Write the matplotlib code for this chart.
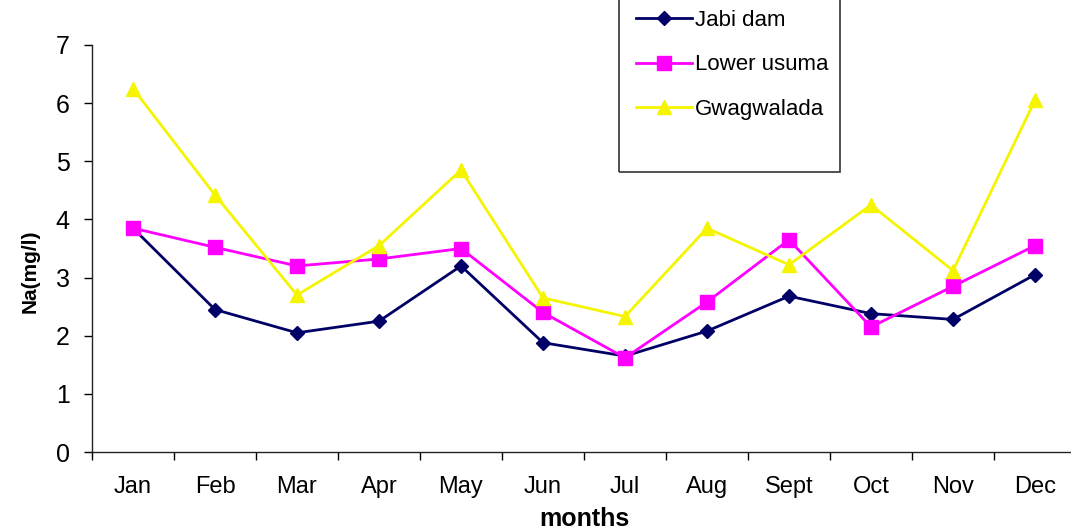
import matplotlib
matplotlib.use("Agg")
import matplotlib.pyplot as plt
from matplotlib.patches import Rectangle
import numpy as np

months = ["Jan", "Feb", "Mar", "Apr", "May", "Jun", "Jul", "Aug", "Sept", "Oct", "Nov", "Dec"]
jabi_dam = [3.85, 2.45, 2.05, 2.25, 3.2, 1.88, 1.65, 2.08, 2.68, 2.38, 2.28, 3.05]
lower_usuma = [3.85, 3.52, 3.2, 3.32, 3.5, 2.4, 1.62, 2.58, 3.65, 2.15, 2.85, 3.55]
gwagwalada = [6.25, 4.42, 2.7, 3.55, 4.85, 2.65, 2.33, 3.85, 3.22, 4.25, 3.12, 6.05]
y_ticks = [0, 1, 2, 3, 4, 5, 6, 7]

plt.rcParams['font.family'] = ['Liberation Sans', 'DejaVu Sans']

W, H = 1071, 531
fig = plt.figure(figsize=(W / 100, H / 100), dpi=100)
left, right, bottom, top = 92, 1076, 452, 45
ax = fig.add_axes([left / W, 1 - bottom / H, (right - left) / W, (bottom - top) / H])

x = np.arange(len(months))
ax.plot(x, jabi_dam, color='#000066', marker='D', markersize=7, linewidth=2, label='Jabi dam')
ax.plot(x, lower_usuma, color='#FF00FF', marker='s', markersize=10, linewidth=2, label='Lower usuma')
ax.plot(x, gwagwalada, color='#F5F500', marker='^', markersize=10, linewidth=2, label='Gwagwalada')

ax.set_xlim(-0.5, len(months) - 0.5)
ax.set_ylim(0, 7)
ax.set_yticks(y_ticks)
ax.set_xticks(x)
ax.set_xticklabels(months)
ax.set_xticks(np.arange(-0.5, len(months), 1), minor=True)
ax.tick_params(axis='x', which='major', length=0, pad=17, labelsize=17)
ax.tick_params(axis='x', which='minor', length=6, width=1, direction='out')
ax.tick_params(axis='y', length=6, width=1, direction='out', labelsize=18, pad=10)

for s in ['top', 'right']:
    ax.spines[s].set_visible(False)
for s in ['left', 'bottom']:
    ax.spines[s].set_linewidth(1)
    ax.spines[s].set_color('#222222')

ax.set_ylabel('Na(mg/l)', fontsize=15, fontweight='bold')
ax.yaxis.set_label_coords(-(92 - 40) / (right - left), (bottom - 271) / (bottom - top))
ax.set_xlabel('months', fontsize=18, fontweight='bold', labelpad=7)

leg = fig.legend(loc='upper left', bbox_to_anchor=(625 / W, 1 + 1 / H),
                 fontsize=16, frameon=False, borderpad=0, labelspacing=1.05,
                 handlelength=2.5, handletextpad=0.15)
fig.patches.append(Rectangle((619 / W, 1 - 172 / H), (840 - 619) / W, 180 / H,
                             transform=fig.transFigure, fill=False,
                             edgecolor='#333333', linewidth=1.2))

fig.savefig('out.png', dpi=100)
